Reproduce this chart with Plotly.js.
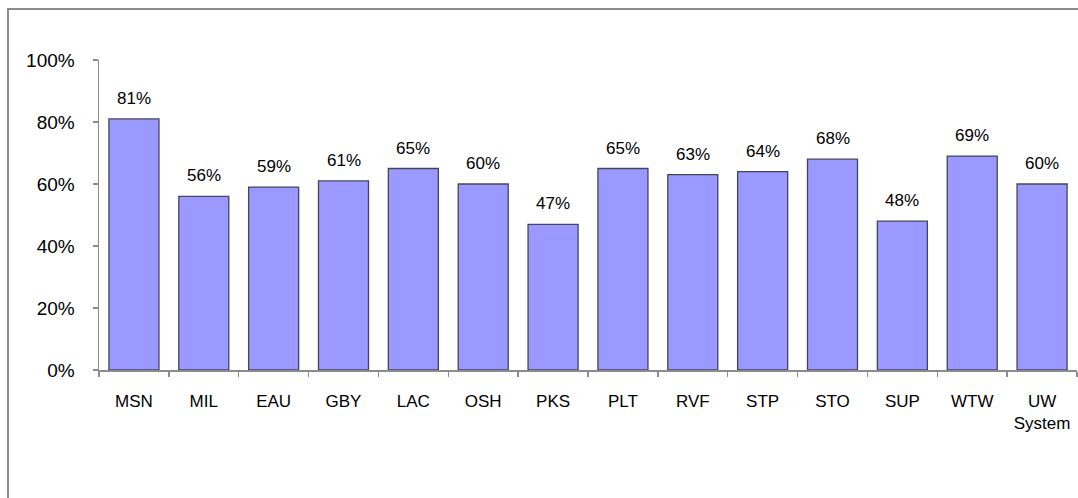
<!DOCTYPE html>
<html>
<head>
<meta charset="utf-8">
<script src="https://cdn.plot.ly/plotly-3.0.1.min.js"></script>
<style>
  html, body { margin: 0; padding: 0; background: #fff; }
  #wrap { position: relative; width: 1078px; height: 498px; overflow: hidden; }
  #chart { position: absolute; left: 0; top: 0; width: 1078px; height: 498px; }
  #frame { position: absolute; left: 7px; top: 8px; width: 1200px; height: 600px;
           border-left: 2px solid #8c8c8c; border-top: 2px solid #8c8c8c; pointer-events: none; }
</style>
</head>
<body>
<div id="wrap">
  <div id="chart"></div>
  <div id="frame"></div>
</div>
<script>
const categories = ["MSN", "MIL", "EAU", "GBY", "LAC", "OSH", "PKS", "PLT", "RVF", "STP", "STO", "SUP", "WTW", "UW System"];
const tickLabels = ["MSN", "MIL", "EAU", "GBY", "LAC", "OSH", "PKS", "PLT", "RVF", "STP", "STO", "SUP", "WTW", "UW<br>System"];
const values = [0.81, 0.56, 0.59, 0.61, 0.65, 0.60, 0.47, 0.65, 0.63, 0.64, 0.68, 0.48, 0.69, 0.60];
const yTickVals = [0, 0.2, 0.4, 0.6, 0.8, 1.0];
const yTickText = ["0%", "20%", "40%", "60%", "80%", "100%"];

const font = "Liberation Sans, Arial, sans-serif";

const trace = {
  type: "bar",
  x: categories,
  y: values,
  marker: { color: "#9999FF", line: { color: "#45455a", width: 1.3 } },
  hoverinfo: "x+y"
};

const annotations = categories.map((c, i) => ({
  x: c, y: values[i], xref: "x", yref: "y",
  text: Math.round(values[i] * 100) + "%",
  showarrow: false, yanchor: "bottom", yshift: 9,
  font: { family: font, size: 17, color: "#000" }
}));

const layout = {
  width: 1078, height: 498,
  margin: { l: 99, r: 1, t: 60, b: 128, pad: 0 },
  paper_bgcolor: "rgba(0,0,0,0)",
  plot_bgcolor: "rgba(0,0,0,0)",
  showlegend: false,
  bargap: 0.284,
  font: { family: font, size: 17, color: "#000" },
  xaxis: {
    type: "category",
    tickvals: categories,
    ticktext: tickLabels,
    showline: true, linecolor: "#8c8c8c", linewidth: 1.5,
    ticks: "outside", ticklen: 5, tickcolor: "#8c8c8c", tickwidth: 1.5,
    tickson: "boundaries",
    showgrid: false, zeroline: false,
    ticklabelstandoff: 15,
    tickfont: { family: font, size: 17, color: "#000" }
  },
  yaxis: {
    range: [0, 1],
    tickvals: yTickVals,
    ticktext: yTickText,
    showline: true, linecolor: "#8c8c8c", linewidth: 1.5,
    ticks: "outside", ticklen: 5, tickcolor: "#8c8c8c", tickwidth: 1.5,
    showgrid: false, zeroline: false,
    ticklabelstandoff: 14,
    tickfont: { family: font, size: 19, color: "#000" }
  },
  annotations: annotations
};

Plotly.newPlot("chart", [trace], layout, { displayModeBar: false, staticPlot: true });
</script>
</body>
</html>
